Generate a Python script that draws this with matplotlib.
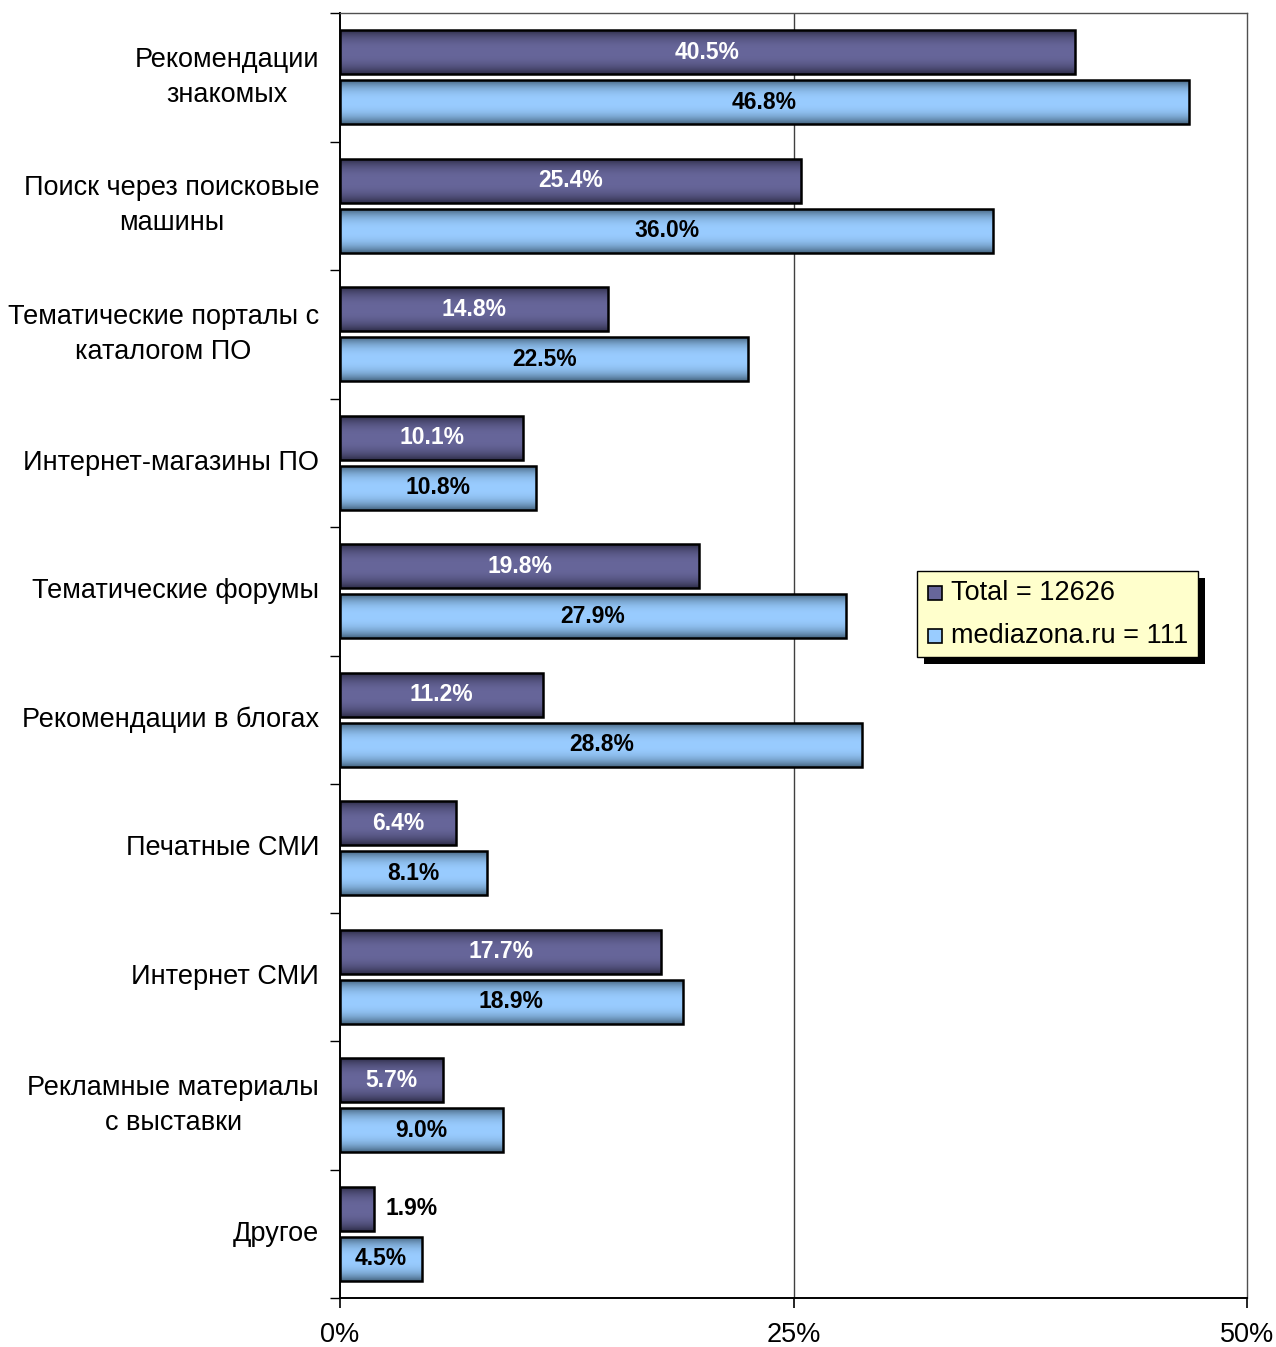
import numpy as np
import matplotlib
matplotlib.use("Agg")
import matplotlib.pyplot as plt
from matplotlib.patches import Rectangle
from matplotlib.colors import to_rgb

plt.rcParams['font.family'] = ['Liberation Sans', 'DejaVu Sans']

categories = [
    "Рекомендации\nзнакомых",
    "Поиск через поисковые\nмашины",
    "Тематические порталы с\nкаталогом ПО",
    "Интернет-магазины ПО",
    "Тематические форумы",
    "Рекомендации в блогах",
    "Печатные СМИ",
    "Интернет СМИ",
    "Рекламные материалы\nс выставки",
    "Другое",
]
total_vals = [40.5, 25.4, 14.8, 10.1, 19.8, 11.2, 6.4, 17.7, 5.7, 1.9]
media_vals = [46.8, 36.0, 22.5, 10.8, 27.9, 28.8, 8.1, 18.9, 9.0, 4.5]
series_names = ["Total = 12626", "mediazona.ru = 111"]
xticks = [0, 25, 50]
xtick_labels = ["0%", "25%", "50%"]

W, H = 1276, 1347
fig = plt.figure(figsize=(W / 100, H / 100), dpi=100)
ax = fig.add_axes([340 / W, 1 - 1298 / H, (1247 - 340) / W, (1298 - 13) / H])

n = len(categories)
bar_h = 0.342
off = 0.195

purple_mid, purple_edge = "#67669a", "#2f2e4a"
blue_mid, blue_edge = "#99ccff", "#466580"


def grad_img(mid, edge, npts=64):
    t = np.linspace(0, 1, npts)
    f = 1 - np.abs(2 * t - 1) ** 2.5
    m = np.array(to_rgb(mid))
    e = np.array(to_rgb(edge))
    cols = e[None, :] + (m - e)[None, :] * f[:, None]
    return cols[:, None, :]


def gbar(y, w, mid, edge):
    y0, y1 = y - bar_h / 2, y + bar_h / 2
    ax.imshow(grad_img(mid, edge), extent=[0, w, y1, y0], aspect='auto',
              interpolation='bilinear', zorder=2, origin='upper')
    ax.add_patch(Rectangle((0, y0), w, bar_h, fill=False, edgecolor='black',
                           linewidth=1.8, zorder=3))


lbl_kw = dict(fontsize=16.5, fontweight='bold', family='Liberation Sans', zorder=4)
for i in range(n):
    yt = i - off
    yb = i + off
    gbar(yt, total_vals[i], purple_mid, purple_edge)
    gbar(yb, media_vals[i], blue_mid, blue_edge)
    tv = total_vals[i]
    if tv < 3:
        ax.text(tv + 0.6, yt, f"{tv:.1f}%", ha='left', va='center', color='black', **lbl_kw)
    else:
        ax.text(tv / 2, yt, f"{tv:.1f}%", ha='center', va='center', color='white', **lbl_kw)
    mv = media_vals[i]
    ax.text(mv / 2, yb, f"{mv:.1f}%", ha='center', va='center', color='black', **lbl_kw)

ax.set_xlim(0, 50)
ax.set_ylim(n - 0.5, -0.5)

ax.axvline(25, color='#404040', linewidth=1.0, zorder=1)

ax.set_xticks(xticks)
ax.set_xticklabels(xtick_labels, fontsize=19.5)
ax.tick_params(axis='x', direction='out', length=7, width=1.2, pad=10)

ax.set_yticks(np.arange(-0.5, n, 1.0))
ax.set_yticklabels([])
ax.set_yticks(np.arange(n), minor=True)
ax.set_yticklabels(categories, minor=True, fontsize=19.5, multialignment='center',
                   linespacing=1.45, va='center')
ax.tick_params(axis='y', which='major', direction='out', length=7, width=1.0)
ax.tick_params(axis='y', which='minor', length=0, pad=15)

for s in ['left', 'bottom']:
    ax.spines[s].set_color('black')
    ax.spines[s].set_linewidth(1.4)
for s in ['top', 'right']:
    ax.spines[s].set_color('#505050')
    ax.spines[s].set_linewidth(1.0)

# legend (manual, with hard shadow)
def fx(x):
    return x / W


def fy(y):
    return 1 - y / H

lx0, lx1, ly0, ly1 = 917, 1198, 571, 657
sh = 7
fig.patches.append(Rectangle((fx(lx0 + sh), fy(ly1 + sh)), fx(lx1 - lx0), (ly1 - ly0) / H,
                             transform=fig.transFigure, facecolor='black', edgecolor='none', zorder=5))
fig.patches.append(Rectangle((fx(lx0), fy(ly1)), fx(lx1 - lx0), (ly1 - ly0) / H,
                             transform=fig.transFigure, facecolor='#ffffcc', edgecolor='black',
                             linewidth=1.0, zorder=6))
for k, (name, col) in enumerate(zip(series_names, [purple_mid, blue_mid])):
    cy = 593 + k * 43
    fig.patches.append(Rectangle((fx(928), fy(cy + 7)), 14 / W, 14 / H,
                                 transform=fig.transFigure, facecolor=col, edgecolor='black',
                                 linewidth=1.2, zorder=7))
    fig.text(fx(951), fy(cy), name, ha='left', va='center', fontsize=19.5, zorder=8)

fig.savefig("out.png", dpi=100)
